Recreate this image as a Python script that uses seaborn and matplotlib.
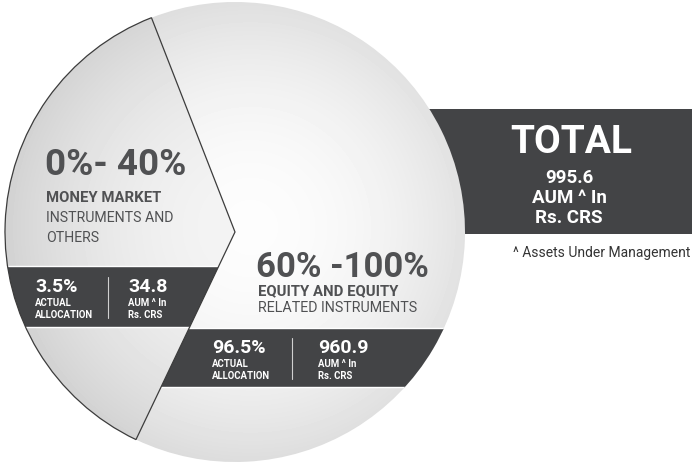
import matplotlib
matplotlib.use("Agg")
import matplotlib.pyplot as plt
import numpy as np
import seaborn as sns
from matplotlib.patches import Rectangle

# ---------------- data ----------------
segments = ["Money Market", "Equity"]
shares = [37, 63]                      # angular share of the circle as drawn
ranges = ["0%- 40%", "60% -100%"]
heading_bold = ["MONEY MARKET", "EQUITY AND EQUITY"]
heading_rest = [["INSTRUMENTS AND", "OTHERS"], ["RELATED INSTRUMENTS"]]
actual_alloc = ["3.5%", "96.5%"]
aum = ["34.8", "960.9"]
total_aum = "995.6"
footnote = "^ Assets Under Management"

sns.set_style("white")
plt.rcParams["font.family"] = ["Roboto", "DejaVu Sans"]

DARK = "#434446"
TEXT = "#505153"

fig = plt.figure(figsize=(6.92, 4.63), dpi=100)
ax = fig.add_axes([0, 0, 1, 1])

cx, cy, R = 235, 232, 230

# TOTAL box sits behind the circle
ax.add_patch(Rectangle((380, 109), 320, 125, facecolor=DARK, edgecolor="none", zorder=0))

wedges, _ = ax.pie(shares, center=(cx, cy), radius=R, startangle=-111.3,
                   counterclock=False, colors=["none", "none"],
                   wedgeprops=dict(linewidth=0, zorder=3))
wedges[0].set_edgecolor("#3c3c3c")
wedges[0].set_linewidth(0.9)

ax.set_xlim(0, 692)
ax.set_ylim(463, 0)
ax.set_aspect("auto")
ax.axis("off")

# radial shading inside each slice
xx, yy = np.meshgrid(np.arange(0, 692), np.arange(0, 463))
rr = np.hypot(xx - (cx + 15), yy - (cy - 5)) / R
base = np.clip(0.99 - 0.12 * rr ** 2, 0, 1)
for w, dim in zip(wedges, [0.965, 1.0]):
    im = ax.imshow(base * dim, cmap="gray", vmin=0, vmax=1,
                   extent=(0, 692, 463, 0), origin="upper", zorder=1,
                   interpolation="bilinear")
    im.set_clip_path(w)

# dark bands, each clipped to its own slice
band_y = [(266, 327), (328, 387)]
for w, (y0, y1) in zip(wedges, band_y):
    bars = ax.barh([(y0 + y1) / 2], [692], left=0, height=y1 - y0, color=DARK, zorder=2)
    for b in bars:
        b.set_clip_path(w)

# ---- money market labels ----
ax.text(45, 175, ranges[0], fontsize=26.5, fontweight="bold", color=TEXT, zorder=4)
ax.text(46, 202, heading_bold[0], fontsize=10.7, fontweight="bold", color=TEXT, zorder=4)
for i, line in enumerate(heading_rest[0]):
    ax.text(46, 222 + 19.5 * i, line, fontsize=10.2, color=TEXT, zorder=4)

# ---- equity labels ----
ax.text(256, 277, ranges[1], fontsize=25, fontweight="bold", color=TEXT, zorder=4)
ax.text(258, 295, heading_bold[1], fontsize=10.7, fontweight="bold", color=TEXT, zorder=4)
ax.text(258, 312, heading_rest[1][0], fontsize=10.3, color=TEXT, zorder=4)


def band_text(x_left, x_right, x_div, y_base, pct, val):
    ax.text(x_left, y_base, pct, fontsize=14, fontweight="bold", color="white", zorder=4)
    ax.text(x_left, y_base + 14, "ACTUAL", fontsize=6.9, fontweight="bold", color="white", zorder=4)
    ax.text(x_left, y_base + 26, "ALLOCATION", fontsize=6.9, fontweight="bold", color="white", zorder=4)
    ax.text(x_right, y_base, val, fontsize=14, fontweight="bold", color="white", zorder=4)
    ax.text(x_right, y_base + 14, "AUM ^ In", fontsize=6.9, fontweight="bold", color="white", zorder=4)
    ax.text(x_right, y_base + 26, "Rs. CRS", fontsize=6.9, fontweight="bold", color="white", zorder=4)
    ax.plot([x_div, x_div], [y_base - 15, y_base + 26], color="#d0d0d0", lw=0.8, zorder=4)


band_text(35, 128, 108, 292, actual_alloc[0], aum[0])
band_text(212, 318, 292, 353, actual_alloc[1], aum[1])

# ---- total box ----
ax.text(571, 153, "TOTAL", fontsize=28, fontweight="bold", color="white", ha="center", zorder=4)
for i, line in enumerate([total_aum, "AUM ^ In", "Rs. CRS"]):
    ax.text(569, 183 + 20 * i, line, fontsize=13.5, fontweight="bold", color="white",
            ha="center", zorder=4)

ax.text(513, 257, footnote, fontsize=10, color="#333333", zorder=4)

fig.savefig("out.png", dpi=100, facecolor="white")
